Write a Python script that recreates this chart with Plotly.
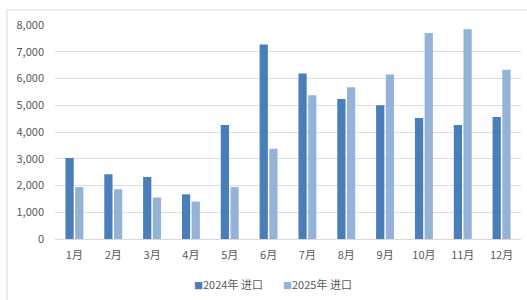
import plotly.graph_objects as go

months = ["1月", "2月", "3月", "4月", "5月", "6月", "7月", "8月", "9月", "10月", "11月", "12月"]
import_2024 = [3030, 2420, 2320, 1670, 4260, 7270, 6190, 5230, 5000, 4520, 4260, 4560]
import_2025 = [1940, 1860, 1550, 1400, 1940, 3370, 5370, 5670, 6150, 7700, 7840, 6330]
series_names = ["2024年 进口", "2025年 进口"]
series_colors = ["#4a7eb8", "#95b3d7"]
y_ticks = [0, 1000, 2000, 3000, 4000, 5000, 6000, 7000, 8000]

FONT = "Noto Sans CJK SC, Noto Sans, sans-serif"
W, H = 527, 300
ml, mr, mt, mb = 55, 6, 25, 61
pw, ph = W - ml - mr, H - mt - mb

fig = go.Figure()
fig.add_trace(go.Bar(x=months, y=import_2024, name=series_names[0],
                     marker=dict(color=series_colors[0], line=dict(width=0))))
fig.add_trace(go.Bar(x=months, y=import_2025, name=series_names[1],
                     marker=dict(color=series_colors[1], line=dict(width=0))))

def px2x(p):
    return (p - ml) / pw

def py2y(p):
    return (H - mb - p) / ph

legend_x = [192, 281]
annotations = []
for name, color, lx in zip(series_names, series_colors, legend_x):
    annotations.append(dict(
        xref="paper", yref="paper", x=px2x(lx), y=py2y(284),
        xanchor="left", yanchor="middle", showarrow=False,
        text=f'<span style="color:{color};font-size:9px">■</span>{name}',
        font=dict(family=FONT, size=11, color="#595959"),
    ))

fig.update_layout(
    width=W, height=H,
    margin=dict(l=ml, r=mr, t=mt, b=mb, autoexpand=False),
    paper_bgcolor="white", plot_bgcolor="white",
    barmode="group", bargap=0.5, bargroupgap=0.15,
    font=dict(family=FONT, size=11, color="#595959"),
    showlegend=False,
    annotations=annotations,
    xaxis=dict(showgrid=False, showline=True, linecolor="#d9d9d9", linewidth=1,
               ticks="", ticklabelstandoff=6, automargin=False,
               tickfont=dict(size=11, color="#595959")),
    yaxis=dict(range=[0, 8000], tickvals=y_ticks, tickformat=",d",
               showgrid=True, gridcolor="#dedede", gridwidth=1,
               zeroline=False, showline=False, ticks="", ticklabelstandoff=10,
               automargin=False,
               tickfont=dict(size=11, color="#595959")),
    shapes=[dict(type="rect", xref="paper", yref="paper",
                 x0=px2x(7), x1=px2x(540), y0=py2y(320), y1=py2y(10),
                 line=dict(color="#d9d9d9", width=1), fillcolor="rgba(0,0,0,0)",
                 layer="below")],
)

fig.write_html("out.html", config={"displayModeBar": False},
               post_script="document.body.style.margin='0';document.body.style.overflow='hidden';")
